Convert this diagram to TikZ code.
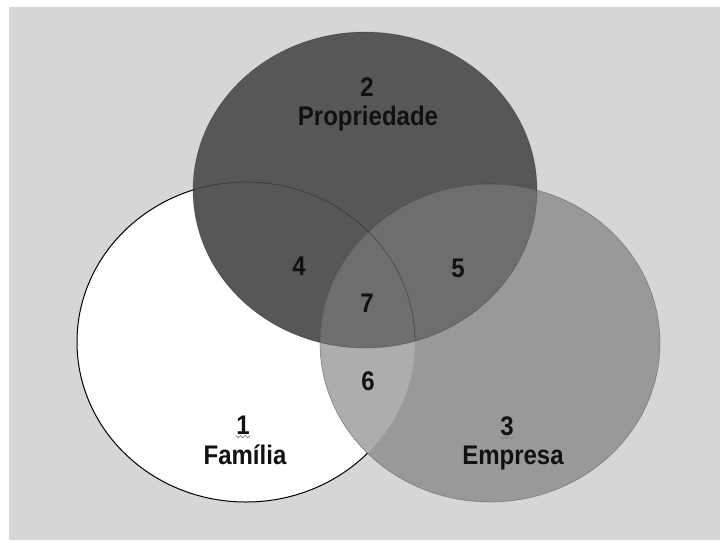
\documentclass[tikz,border=0pt]{standalone}
\usepackage{fontspec}
\setmainfont{Liberation Sans}
\definecolor{bgc}{HTML}{D6D6D6}
\definecolor{darkc}{HTML}{575757}
\definecolor{rightc}{HTML}{999999}
\definecolor{sixc}{HTML}{ADADAD}
\definecolor{sevenc}{HTML}{6E6E6E}
\definecolor{txtc}{HTML}{111111}
\newcommand{\tl}[1]{\scalebox{1.0}[1.12]{#1}}
\begin{document}
\begin{tikzpicture}[x=1pt,y=-1pt,
  lbl/.style={font=\fontsize{24}{27}\selectfont\bfseries, text=txtc, inner sep=0pt, align=center},
  squig/.style={draw=gray, line width=0.7pt}]
\useasboundingbox (0,0) rectangle (720,542);
\fill[white] (0,0) rectangle (720,542);
\fill[bgc] (9,7) rectangle (720,540);
% circles
\def\leftE{(246,342) ellipse [x radius=169pt, y radius=160pt]}
\def\topE{(365,190) ellipse [x radius=172pt, y radius=158pt]}
\def\rightE{(490,343) ellipse [x radius=170pt, y radius=159pt]}
\filldraw[fill=white, draw=black, line width=1pt] \leftE;
\fill[darkc] \topE;
\fill[rightc] \rightE;
\begin{scope}
  \clip \rightE;
  \fill[sixc] \leftE;
  \fill[sevenc] \topE;
\end{scope}
\begin{scope}
  \clip \topE;
  \draw[black, opacity=0.3, line width=0.8pt] \leftE;
\end{scope}
\draw[black, opacity=0.2, line width=0.7pt] \topE;
\draw[black, opacity=0.25, line width=0.7pt] \rightE;
% labels
\node[lbl] (n2) at (367,87) {\tl{2}};
\node[lbl, anchor=base] (prop) at (368,125) {\tl{Propriedade}};
\node[lbl] (n4) at (299,266) {\tl{4}};
\node[lbl] (n5) at (458,268) {\tl{5}};
\node[lbl] (n7) at (367,303) {\tl{7}};
\node[lbl] (n6) at (368,381) {\tl{6}};
\node[lbl] (n1) at (243,425) {\tl{1}};
\node[lbl, anchor=base] (fam) at (245,464) {\tl{Família}};
\node[lbl] (n3) at (507,426) {\tl{3}};
\node[lbl, anchor=base] (emp) at (513,464) {\tl{Empresa}};
% spell-check squiggles
\draw[squig] ([xshift=-7pt,yshift=-1pt]n1.south) -- ++(2.3,2.3) -- ++(2.3,-2.3) -- ++(2.3,2.3) -- ++(2.3,-2.3) -- ++(2.3,2.3) -- ++(2.3,-2.3);
\draw[squig] ([xshift=-7pt,yshift=-1pt]n3.south) -- ++(2.3,2.3) -- ++(2.3,-2.3) -- ++(2.3,2.3) -- ++(2.3,-2.3) -- ++(2.3,2.3) -- ++(2.3,-2.3);
\end{tikzpicture}
\end{document}
